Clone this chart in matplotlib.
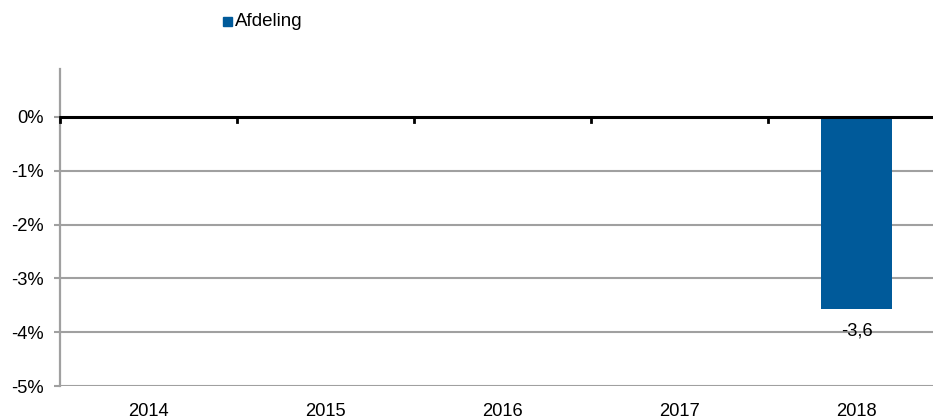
import matplotlib
matplotlib.use("Agg")
import matplotlib.pyplot as plt
from matplotlib.ticker import FuncFormatter

plt.rcParams['font.family'] = ['Liberation Sans', 'DejaVu Sans']

years = ["2014", "2015", "2016", "2017", "2018"]
afdeling = [None, None, None, None, -3.57]
bar_labels = [None, None, None, None, "-3,6"]
y_ticks = [0, -1, -2, -3, -4, -5]

W, H = 933, 419
fig = plt.figure(figsize=(W / 100, H / 100), dpi=100)
# axes runs past the right edge of the picture, like the original
left, right = 60, 945
top, bottom = 69, 386
ax = fig.add_axes([left / W, 1 - bottom / H, (right - left) / W, (bottom - top) / H])

blue = "#005a9a"
fs = 13.2
xs = list(range(len(years)))
for x, v, lab in zip(xs, afdeling, bar_labels):
    if v is None:
        continue
    ax.bar(x, v, width=0.4, color=blue, zorder=3)
    ax.text(x, v - 0.4, lab, ha="center", va="center", fontsize=fs, color="#000000", zorder=4)

ax.set_xlim(-0.5, len(years) - 0.5)
ax.set_ylim(-5, 0.89)
ax.set_yticks(y_ticks)
ax.yaxis.set_major_formatter(FuncFormatter(lambda v, p: "%d%%" % v))
for t in y_ticks:
    if t != 0:
        ax.axhline(t, color="#a0a0a0", lw=1.5, zorder=1)
ax.axhline(0, color="#000000", lw=2.2, zorder=5)

# category boundary ticks on the zero line
for b in range(len(years)):
    ax.plot([b - 0.5, b - 0.5], [0, -0.1], color="#000000", lw=2, zorder=5, clip_on=False)

ax.set_xticks(xs)
ax.set_xticklabels(years)
ax.tick_params(axis="x", length=0, pad=12, labelsize=fs)
ax.tick_params(axis="y", length=4, width=1.5, color="#a0a0a0", labelsize=fs, pad=8)

for s in ["top", "right", "bottom"]:
    ax.spines[s].set_visible(False)
ax.spines["left"].set_color("#a0a0a0")
ax.spines["left"].set_linewidth(1.6)

# legend
fig.patches.append(plt.Rectangle((223 / W, 1 - 26 / H), 9 / W, 9 / H, transform=fig.transFigure,
                                 color=blue, figure=fig))
fig.text(235 / W, 1 - 21.5 / H, "Afdeling", fontsize=13.5, va="center", ha="left")

fig.savefig("out.png", dpi=100)
